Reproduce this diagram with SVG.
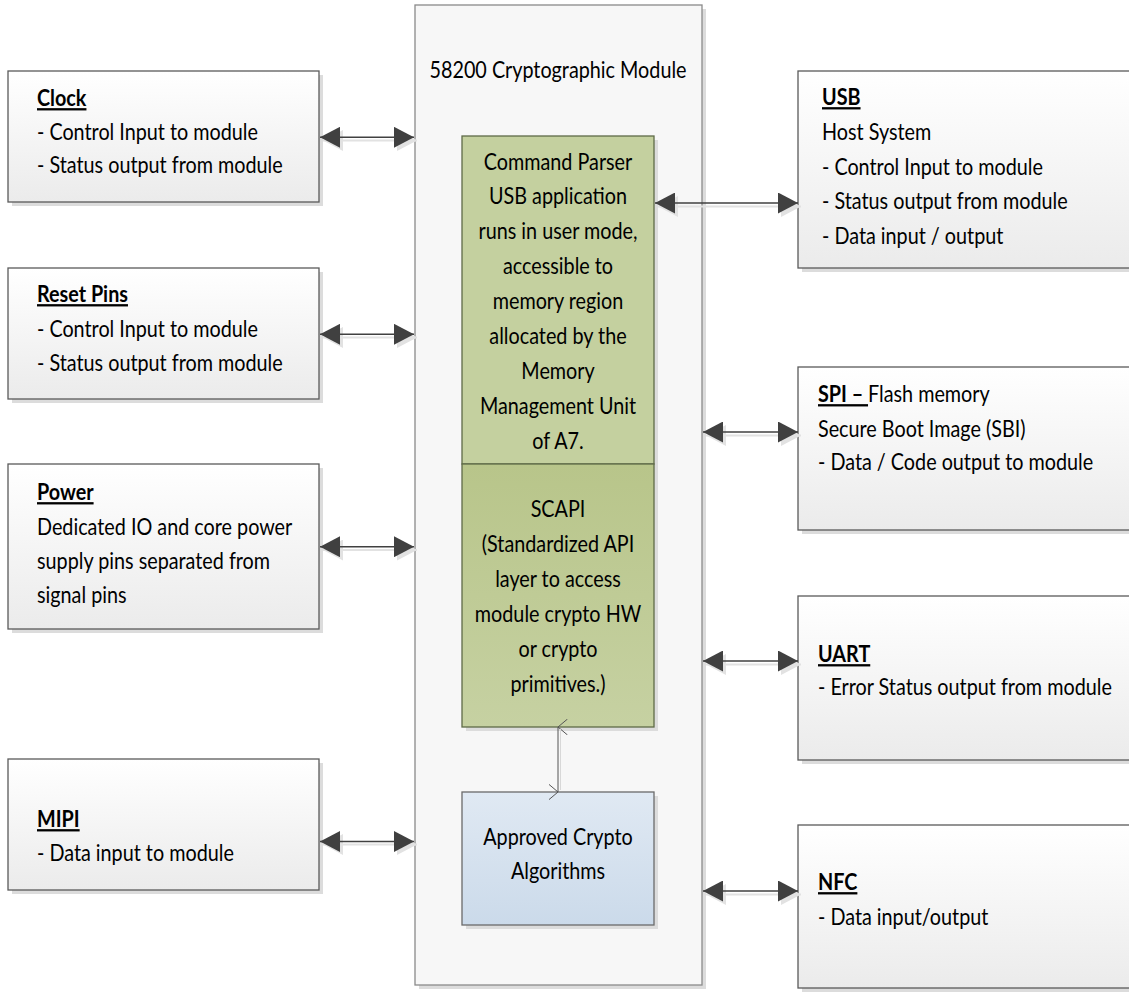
<svg xmlns="http://www.w3.org/2000/svg" width="1129" height="992" viewBox="0 0 1129 992">
<defs>
<linearGradient id="gBox" x1="0" y1="0" x2="0" y2="1">
<stop offset="0" stop-color="#ffffff"/>
<stop offset="1" stop-color="#ebebeb"/>
</linearGradient>
<linearGradient id="gGreen" x1="0" y1="0" x2="0" y2="1">
<stop offset="0" stop-color="#b8c58a"/>
<stop offset="1" stop-color="#c6d1a2"/>
</linearGradient>
<linearGradient id="gBlue" x1="0" y1="0" x2="0" y2="1">
<stop offset="0" stop-color="#e0e9f3"/>
<stop offset="1" stop-color="#cbdaea"/>
</linearGradient>
<marker id="ah" viewBox="0 0 20 21" refX="20" refY="10.5" markerWidth="20" markerHeight="21" markerUnits="userSpaceOnUse" orient="auto-start-reverse">
<path d="M0,0 L20,10.5 L0,21 z" fill="#404040"/>
</marker>
<marker id="ahs" viewBox="0 0 20 21" refX="20" refY="10.5" markerWidth="20" markerHeight="21" markerUnits="userSpaceOnUse" orient="auto-start-reverse">
<path d="M0,0 L20,10.5 L0,21 z" fill="#e2e2e2"/>
</marker>
<marker id="av" viewBox="0 0 16 10" refX="8" refY="0.5" markerWidth="16" markerHeight="10" markerUnits="userSpaceOnUse" orient="auto-start-reverse">
<path d="M0,10 L8,0.5 L16,10" fill="none" stroke="#555" stroke-width="1"/>
</marker>
</defs>
<style>
.box{fill:url(#gBox);stroke:#5a5a5a;stroke-width:1.3}
.sh{fill:#dcdcdc}
.t{font-family:Lato,"Liberation Sans",sans-serif;font-size:23px;fill:#000}
.c{text-anchor:middle}
.h{font-weight:bold;text-decoration:underline}
.ln{stroke:#404040;stroke-width:1.5;fill:none;marker-start:url(#ah);marker-end:url(#ah)}
.lns{stroke:#e2e2e2;stroke-width:2;fill:none;marker-start:url(#ahs);marker-end:url(#ahs)}
</style>
<rect width="1129" height="992" fill="#ffffff"/>

<g id="module">
<rect x="419" y="9" width="287" height="980" class="sh" fill="#e6e6e6"/>
<rect x="415" y="5" width="287" height="980" fill="#f7f7f7" stroke="#8a8a8a" stroke-width="1.3"/>
<text class="t c" transform="translate(558,78) scale(0.86,1)">58200 Cryptographic Module</text>
</g>

<g id="cmdparser">
<rect x="466" y="140" width="192" height="591" class="sh"/>
<rect x="462" y="136" width="192" height="328" fill="#c4d09f" stroke="#5f6a48" stroke-width="1.3"/>
<text class="t c" transform="translate(558,170) scale(0.86,1)">Command Parser</text>
<text class="t c" transform="translate(558,204) scale(0.86,1)">USB application</text>
<text class="t c" transform="translate(558,239) scale(0.86,1)">runs in user mode,</text>
<text class="t c" transform="translate(558,274) scale(0.86,1)">accessible to</text>
<text class="t c" transform="translate(558,309) scale(0.86,1)">memory region</text>
<text class="t c" transform="translate(558,344) scale(0.86,1)">allocated by the</text>
<text class="t c" transform="translate(558,379) scale(0.86,1)">Memory</text>
<text class="t c" transform="translate(558,414) scale(0.86,1)">Management Unit</text>
<text class="t c" transform="translate(558,449) scale(0.86,1)">of A7.</text>
</g>

<g id="scapi">
<rect x="462" y="464" width="192" height="263" fill="url(#gGreen)" stroke="#5f6a48" stroke-width="1.3"/>
<text class="t c" transform="translate(558,517) scale(0.86,1)">SCAPI</text>
<text class="t c" transform="translate(558,552) scale(0.86,1)">(Standardized API</text>
<text class="t c" transform="translate(558,587) scale(0.86,1)">layer to access</text>
<text class="t c" transform="translate(558,622) scale(0.86,1)">module crypto HW</text>
<text class="t c" transform="translate(558,657) scale(0.86,1)">or crypto</text>
<text class="t c" transform="translate(558,692) scale(0.86,1)">primitives.)</text>
</g>

<g id="crypto">
<rect x="466" y="796" width="192" height="133" class="sh"/>
<rect x="462" y="792" width="192" height="133" fill="url(#gBlue)" stroke="#6a6a6a" stroke-width="1.3"/>
<text class="t c" transform="translate(558,845) scale(0.86,1)">Approved Crypto</text>
<text class="t c" transform="translate(558,879) scale(0.86,1)">Algorithms</text>
</g>

<g id="clock">
<rect x="12" y="75" width="311" height="131" class="sh"/>
<rect x="8" y="71" width="311" height="131" class="box"/>
<text class="t" transform="translate(37,106) scale(0.86,1)"><tspan class="h">Clock</tspan></text>
<text class="t" transform="translate(37,140) scale(0.86,1)">- Control Input to module</text>
<text class="t" transform="translate(37,173) scale(0.86,1)">- Status output from module</text>
</g>

<g id="reset">
<rect x="12" y="272" width="311" height="131" class="sh"/>
<rect x="8" y="268" width="311" height="131" class="box"/>
<text class="t" transform="translate(37,302) scale(0.86,1)"><tspan class="h">Reset Pins</tspan></text>
<text class="t" transform="translate(37,337) scale(0.86,1)">- Control Input to module</text>
<text class="t" transform="translate(37,371) scale(0.86,1)">- Status output from module</text>
</g>

<g id="power">
<rect x="12" y="468" width="311" height="165" class="sh"/>
<rect x="8" y="464" width="311" height="165" class="box"/>
<text class="t" transform="translate(37,500) scale(0.86,1)"><tspan class="h">Power</tspan></text>
<text class="t" transform="translate(37,535) scale(0.86,1)">Dedicated IO and core power</text>
<text class="t" transform="translate(37,569) scale(0.86,1)">supply pins separated from</text>
<text class="t" transform="translate(37,603) scale(0.86,1)">signal pins</text>
</g>

<g id="mipi">
<rect x="12" y="763" width="311" height="131" class="sh"/>
<rect x="8" y="759" width="311" height="131" class="box"/>
<text class="t" transform="translate(37,827) scale(0.86,1)"><tspan class="h">MIPI</tspan></text>
<text class="t" transform="translate(37,861) scale(0.86,1)">- Data input to module</text>
</g>

<g id="usb">
<rect x="802" y="75" width="340" height="197" class="sh"/>
<rect x="798" y="71" width="340" height="197" class="box"/>
<text class="t" transform="translate(822,105) scale(0.86,1)"><tspan class="h">USB</tspan></text>
<text class="t" transform="translate(822,140) scale(0.86,1)">Host System</text>
<text class="t" transform="translate(822,175) scale(0.86,1)">- Control Input to module</text>
<text class="t" transform="translate(822,209) scale(0.86,1)">- Status output from module</text>
<text class="t" transform="translate(822,244) scale(0.86,1)">- Data input / output</text>
</g>

<g id="spi">
<rect x="802" y="371" width="340" height="163" class="sh"/>
<rect x="798" y="367" width="340" height="163" class="box"/>
<text class="t" transform="translate(818,402) scale(0.86,1)"><tspan class="h">SPI – </tspan>Flash memory</text>
<text class="t" transform="translate(818,437) scale(0.86,1)">Secure Boot Image (SBI)</text>
<text class="t" transform="translate(818,470) scale(0.86,1)">- Data / Code output to module</text>
</g>

<g id="uart">
<rect x="802" y="600" width="340" height="164" class="sh"/>
<rect x="798" y="596" width="340" height="164" class="box"/>
<text class="t" transform="translate(818,662) scale(0.86,1)"><tspan class="h">UART</tspan></text>
<text class="t" transform="translate(818,695) scale(0.86,1)">- Error Status output from module</text>
</g>

<g id="nfc">
<rect x="802" y="829" width="340" height="163" class="sh"/>
<rect x="798" y="825" width="340" height="163" class="box"/>
<text class="t" transform="translate(818,890) scale(0.86,1)"><tspan class="h">NFC</tspan></text>
<text class="t" transform="translate(818,925) scale(0.86,1)">- Data input/output</text>
</g>

<g id="connectors">
<path class="lns" d="M323,140.5 H417"/>
<path class="lns" d="M323,337.5 H417"/>
<path class="lns" d="M323,550 H417"/>
<path class="lns" d="M323,844.5 H417"/>
<path class="lns" d="M658,206.5 H801"/>
<path class="lns" d="M706,435.5 H801"/>
<path class="lns" d="M706,664.5 H801"/>
<path class="lns" d="M706,894.5 H801"/>
<path class="ln" d="M320,137.3 H414"/>
<path class="ln" d="M320,334.3 H414"/>
<path class="ln" d="M320,546.7 H414"/>
<path class="ln" d="M320,841.5 H414"/>
<path class="ln" d="M655,203 H798"/>
<path class="ln" d="M703,432 H798"/>
<path class="ln" d="M703,661 H798"/>
<path class="ln" d="M703,891 H798"/>
<path d="M558,727 V792" stroke="#555" stroke-width="1" fill="none" marker-start="url(#av)" marker-end="url(#av)"/>
<path d="M560.5,729 V790" stroke="#d8d8d8" stroke-width="1" fill="none"/>
</g>
</svg>
